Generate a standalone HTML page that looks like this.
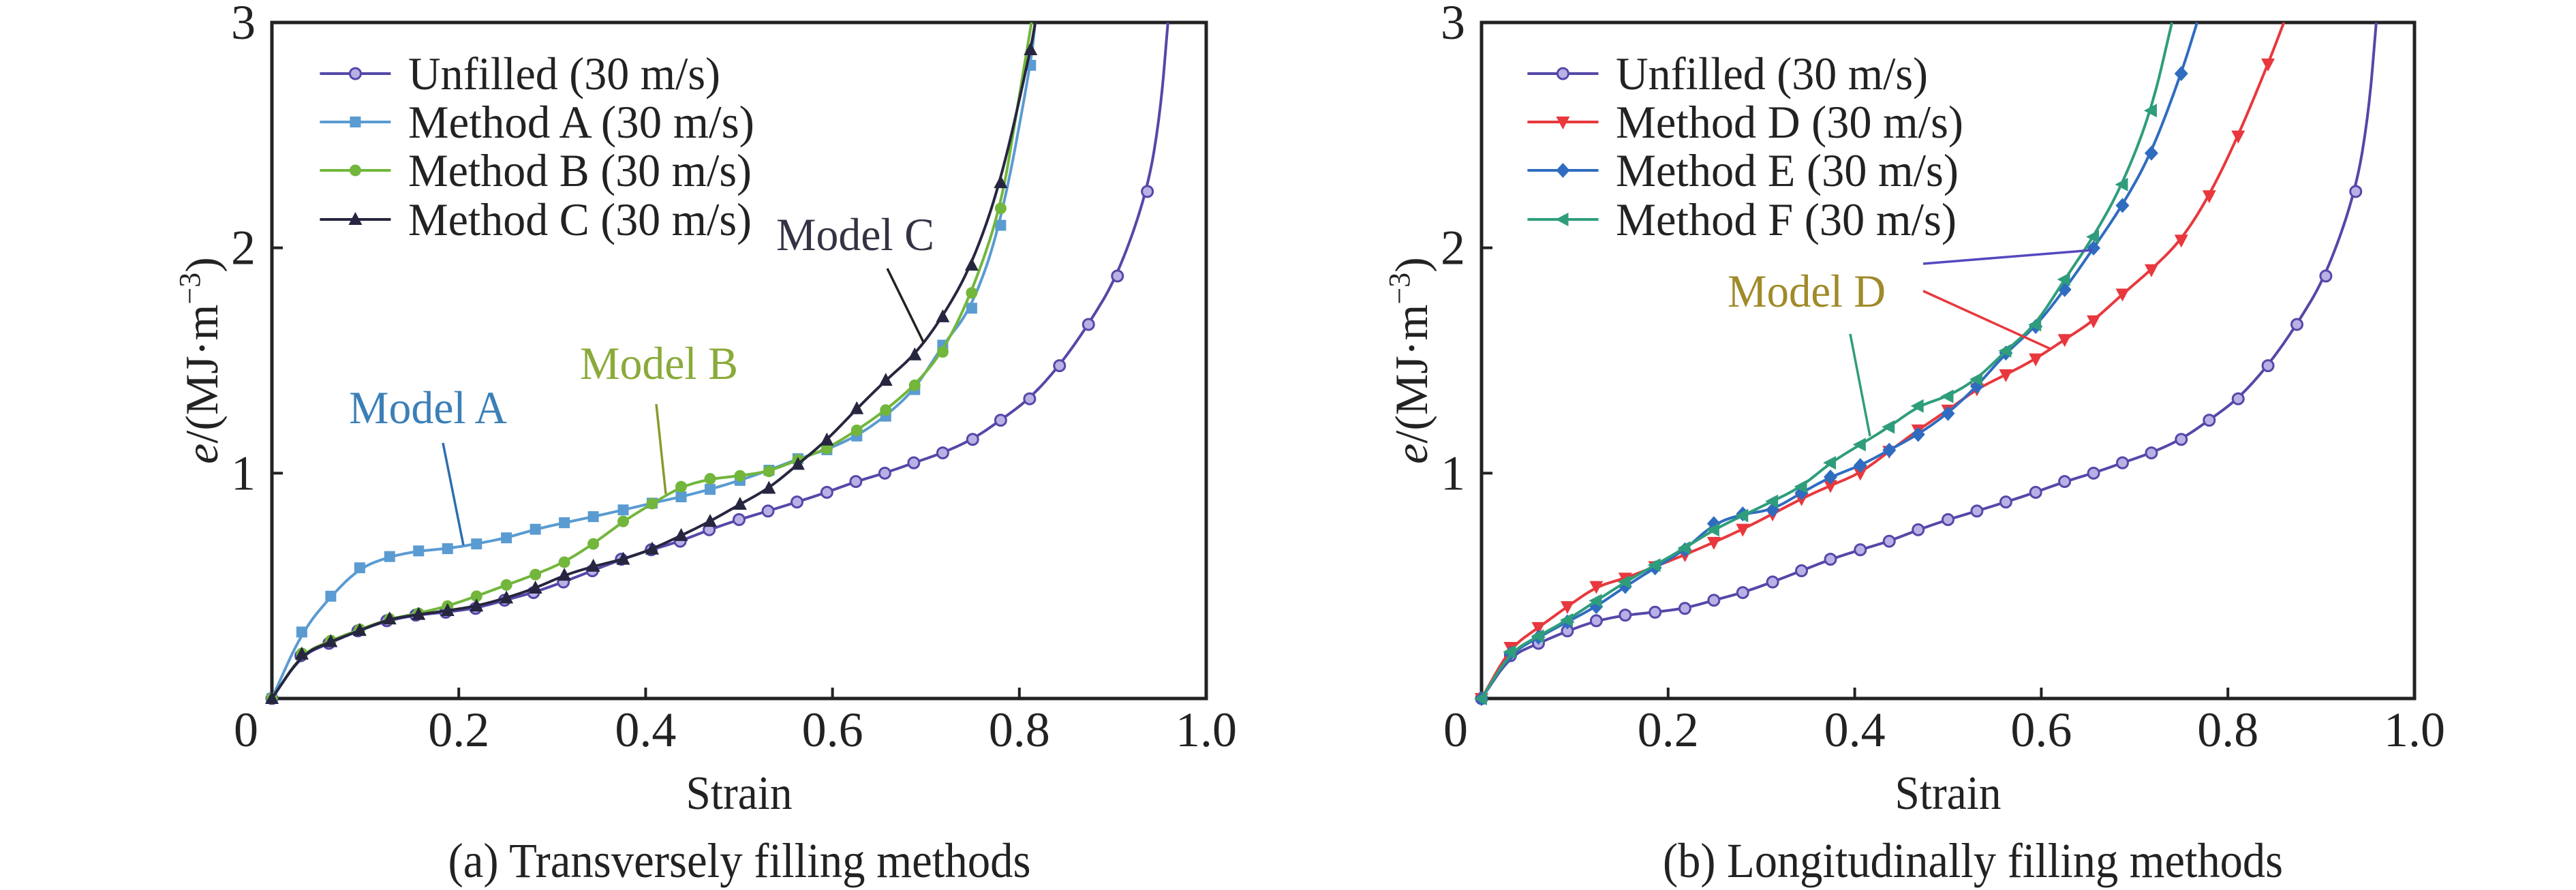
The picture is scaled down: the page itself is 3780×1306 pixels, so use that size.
<!DOCTYPE html>
<html><head><meta charset="utf-8"><style>
html,body{margin:0;padding:0;background:#fff;}
svg{display:block;font-family:"Liberation Serif",serif;}
</style></head><body>
<svg id="chart" width="3780" height="1306" viewBox="0 0 3780 1306" xmlns="http://www.w3.org/2000/svg"></svg>
<script>
// ---- data ----
const unfilledX=[0,.031,.061,.092,.123,.154,.186,.218,.249,.28,.312,.343,.374,.406,.437,.468,.5,.531,.562,.594,.625,.656,.687,.718,.75,.78,.811,.843,.874,.905,.937];
const unfilledY=[0,.19,.245,.30,.345,.37,.383,.40,.436,.47,.517,.567,.618,.66,.698,.749,.794,.832,.872,.915,.963,1.0,1.046,1.09,1.15,1.235,1.33,1.477,1.66,1.875,2.25];
const unfilledTailX=[.951,.959];const unfilledTailY=[2.6,3.0];

const aX=[0,.032,.063,.094,.126,.157,.188,.219,.251,.282,.313,.344,.376,.407,.438,.469,.501,.532,.563,.594,.626,.657,.688,.718,.749,.78,.812];
const aY=[0,.295,.454,.58,.63,.655,.665,.686,.713,.751,.78,.807,.837,.867,.895,.928,.968,1.013,1.064,1.104,1.165,1.253,1.371,1.568,1.732,2.1,2.81];
const aTailX=[.817];const aTailY=[3.0];

const bX=[0,.032,.063,.094,.126,.157,.188,.219,.251,.282,.313,.344,.376,.407,.438,.469,.501,.532,.563,.594,.626,.657,.688,.718,.749,.78];
const bY=[0,.2,.257,.307,.353,.378,.41,.454,.504,.55,.605,.686,.786,.865,.94,.975,.988,1.008,1.059,1.109,1.19,1.28,1.39,1.538,1.80,2.175];
const bTailX=[.797,.813];const bTailY=[2.6,3.0];

const cX=[0,.032,.063,.094,.126,.157,.188,.219,.251,.282,.313,.344,.376,.407,.438,.469,.501,.532,.563,.594,.626,.657,.688,.718,.749,.78,.812];
const cY=[0,.197,.252,.302,.353,.373,.39,.41,.446,.49,.547,.587,.618,.663,.723,.786,.862,.933,1.039,1.147,1.286,1.412,1.525,1.694,1.923,2.289,2.879];
const cTailX=[.817];const cTailY=[3.0];

const dX=[0,.031,.061,.092,.123,.154,.186,.218,.249,.28,.312,.343,.374,.406,.437,.468,.5,.531,.562,.594,.625,.656,.687,.718,.75,.78,.811,.843];
const dY=[0,.227,.315,.408,.497,.534,.585,.638,.693,.751,.819,.887,.945,1.0,1.097,1.192,1.28,1.374,1.437,1.507,1.593,1.676,1.795,1.903,2.034,2.231,2.496,2.816];
const dTailX=[.86];const dTailY=[3.0];

const eX=[0,.031,.061,.092,.123,.154,.186,.218,.249,.28,.312,.343,.374,.406,.437,.468,.5,.531,.562,.594,.625,.656,.687,.718,.75];
const eY=[0,.20,.272,.34,.408,.497,.58,.66,.776,.819,.837,.913,.983,1.034,1.102,1.172,1.265,1.386,1.533,1.651,1.815,1.999,2.188,2.42,2.773];
const eTailX=[.767];const eTailY=[3.0];

const fX=[0,.031,.061,.092,.123,.154,.186,.218,.249,.28,.312,.343,.374,.406,.437,.468,.5,.531,.562,.594,.625,.656,.687,.718];
const fY=[0,.207,.277,.348,.434,.517,.592,.668,.749,.812,.875,.94,1.046,1.127,1.205,1.298,1.341,1.417,1.543,1.659,1.86,2.049,2.281,2.609];
const fTailX=[.74];const fTailY=[3.0];

const xTicks=[0,0.2,0.4,0.6,0.8,1.0];
const xTickLabels=["0","0.2","0.4","0.6","0.8","1.0"];
const yTicks=[1,2,3];
const yTickLabels=["1","2","3"];

const NS="http://www.w3.org/2000/svg";
const svg=document.getElementById('chart');
function mk(tag,attrs,parent){const e=document.createElementNS(NS,tag);for(const k in attrs)e.setAttribute(k,attrs[k]);(parent||svg).appendChild(e);return e;}

const panels=[{L:399,R:1770,T:33,B:1025,off:300},{L:2174,R:3543,T:33,B:1025,off:2050}];
function sx(p,v){return p.L+v*(p.R-p.L);}
function sy(p,v){return p.B-v/3*(p.B-p.T);}

function marker(g,shape,x,y,col){
  let m;
  if(shape==='circle'){m=mk('circle',{cx:x,cy:y,r:8,fill:'#b9b0e6',stroke:col,'stroke-width':3},g);}
  else if(shape==='square'){m=mk('rect',{x:x-8,y:y-8,width:16,height:16,fill:col},g);}
  else if(shape==='dot'){m=mk('circle',{cx:x,cy:y,r:8.5,fill:col},g);}
  else if(shape==='up'){m=mk('polygon',{points:`${x},${y-11} ${x-10},${y+8} ${x+10},${y+8}`,fill:col},g);}
  else if(shape==='down'){m=mk('polygon',{points:`${x},${y+11} ${x-10},${y-8} ${x+10},${y-8}`,fill:col},g);}
  else if(shape==='diamond'){m=mk('polygon',{points:`${x},${y-11} ${x+10},${y} ${x},${y+11} ${x-10},${y}`,fill:col},g);}
  else if(shape==='left'){m=mk('polygon',{points:`${x-11},${y} ${x+8},${y-10} ${x+8},${y+10}`,fill:col},g);}
  return m;
}

function series(p,name,xs,ys,tx,ty,col,shape){
  const g=mk('g',{});
  
  
  const allX=xs.concat(tx),allY=ys.concat(ty);
  let d='';
  for(let i=0;i<allX.length;i++){
    const X=sx(p,allX[i]),Y=sy(p,Math.min(allY[i],3));
    if(i===0)d+=`M${X},${Y}`;
    else{const px=sx(p,allX[i-1]),py=sy(p,allY[i-1]);d+=` Q${px},${py} ${(px+X)/2},${(py+Y)/2}`;}
  }
  d+=` L${sx(p,allX[allX.length-1])},${sy(p,allY[allY.length-1])}`;
  const path=mk('path',{d:d,fill:'none',stroke:col,'stroke-width':4},g);
  
  
  for(let i=0;i<xs.length;i++){
    const m=marker(g,shape,sx(p,xs[i]),sy(p,ys[i]),col);
    
    
  }
}

function axes(p,tag){
  const g=mk('g',{});
  
  
  const fr=mk('rect',{x:p.L,y:p.T,width:p.R-p.L,height:p.B-p.T,fill:'none',stroke:'#222','stroke-width':5},g);
  
  
  xTicks.forEach((v,i)=>{
    const X=sx(p,v);
    if(i>0&&i<xTicks.length-1){const t=mk('line',{x1:X,y1:p.B,x2:X,y2:p.B-16,stroke:'#222','stroke-width':4},g);
      }
    const lb=mk('text',{x:i===0?X-38:X,y:1095,'font-size':72,'text-anchor':'middle',fill:'#222'},g);
    lb.textContent=xTickLabels[i];
    
    
  });
  yTicks.forEach((v,i)=>{
    const Y=sy(p,v);
    if(v<3){const t=mk('line',{x1:p.L,y1:Y,x2:p.L+16,y2:Y,stroke:'#222','stroke-width':4},g);
      }
    const lb=mk('text',{x:p.L-24,y:Y+24,'font-size':72,'text-anchor':'end',fill:'#222'},g);
    lb.textContent=yTickLabels[i];
    
    
  });
  const xt=mk('text',{x:(p.L+p.R)/2,y:1187,'font-size':70,'text-anchor':'middle',fill:'#222',textLength:156,lengthAdjust:'spacingAndGlyphs'},g);
  xt.textContent='Strain';
  
  
  const yx=p.L-80,yy=(p.T+p.B)/2;
  const yt=mk('text',{x:yx,y:yy,'font-size':68,'text-anchor':'middle',fill:'#222',transform:`rotate(-90 ${yx} ${yy})`},g);
  yt.innerHTML='<tspan font-style="italic">e</tspan>/(MJ·m<tspan dy="-26" font-size="44">−3</tspan><tspan dy="26">)</tspan>';
  
  
}

function legend(p,tag,entries){
  const g=mk('g',{});
  
  
  const rows=[108,179,250,322];
  entries.forEach((e,i)=>{
    const eg=mk('g',{},g);
    
    
    const x1=p.off+166*1.0204,x2=p.off+268*1.0204,xm=(x1+x2)/2;
    if(tag==='panel-b'){const dx=22;}
    const shift=tag==='panel-b'?22:0;
    mk('line',{x1:x1+shift,y1:rows[i],x2:x2+shift,y2:rows[i],stroke:e[1],'stroke-width':4},eg);
    marker(eg,e[2],xm+shift,rows[i],e[1]);
    const t=mk('text',{x:p.off+293*1.0204+shift,y:rows[i]+23,'font-size':68,fill:'#222',textLength:e[3],lengthAdjust:'spacingAndGlyphs'},eg);
    t.textContent=e[0];
  });
}

function annot(tag,label,x,y,col,lines){
  const g=mk('g',{});
  
  
  const t=mk('text',{x:x,y:y,'font-size':68,fill:col,textLength:232,lengthAdjust:'spacingAndGlyphs'},g);
  t.textContent=label;
  lines.forEach(l=>{mk('line',{x1:l[0],y1:l[1],x2:l[2],y2:l[3],stroke:l[4],'stroke-width':3.5},g);});
}

const pa=panels[0],pb=panels[1];
axes(pa,'panel-a');axes(pb,'panel-b');

series(pa,'unfilled-a',unfilledX,unfilledY,unfilledTailX,unfilledTailY,'#5448a8','circle');
series(pa,'method-a',aX,aY,aTailX,aTailY,'#5a9bd2','square');
series(pa,'method-b',bX,bY,bTailX,bTailY,'#72b63c','dot');
series(pa,'method-c',cX,cY,cTailX,cTailY,'#262640','up');

series(pb,'unfilled-b',unfilledX,unfilledY,unfilledTailX,unfilledTailY,'#5448a8','circle');
series(pb,'method-d',dX,dY,dTailX,dTailY,'#e8383d','down');
series(pb,'method-e',eX,eY,eTailX,eTailY,'#2f6cc0','diamond');
series(pb,'method-f',fX,fY,fTailX,fTailY,'#2f9d7c','left');

legend(pa,'panel-a',[["Unfilled (30 m/s)",'#5448a8','circle',458],["Method A (30 m/s)",'#5a9bd2','square',508],["Method B (30 m/s)",'#72b63c','dot',504],["Method C (30 m/s)",'#262640','up',504]]);
legend(pb,'panel-b',[["Unfilled (30 m/s)",'#5448a8','circle',458],["Method D (30 m/s)",'#e8383d','down',510],["Method E (30 m/s)",'#2f6cc0','diamond',503],["Method F (30 m/s)",'#2f9d7c','left',500]]);

annot('model-a-annotation','Model A',512,621,'#3b7fb8',[[650,650,680,800,'#2f6db0']]);
annot('model-b-annotation','Model B',851,556,'#8aaa3a',[[963,593,977,725,'#8a9a2a']]);
annot('model-c-annotation','Model C',1139,367,'#333344',[[1302,394,1356,504,'#222']]);
annot('model-d-annotation','Model D',2535,450,'#a08a2a',[[2822,387,3070,367,'#5448c0'],[2822,427,3009,512,'#e8383d'],[2715,490,2744,640,'#2f9d7c']]);

const capA=mk('text',{x:1085,y:1287,'font-size':72,'text-anchor':'middle',fill:'#222',textLength:855,lengthAdjust:'spacingAndGlyphs'});
capA.textContent='(a) Transversely filling methods';


const capB=mk('text',{x:2895,y:1287,'font-size':72,'text-anchor':'middle',fill:'#222',textLength:910,lengthAdjust:'spacingAndGlyphs'});
capB.textContent='(b) Longitudinally filling methods';


</script>
</body></html>
